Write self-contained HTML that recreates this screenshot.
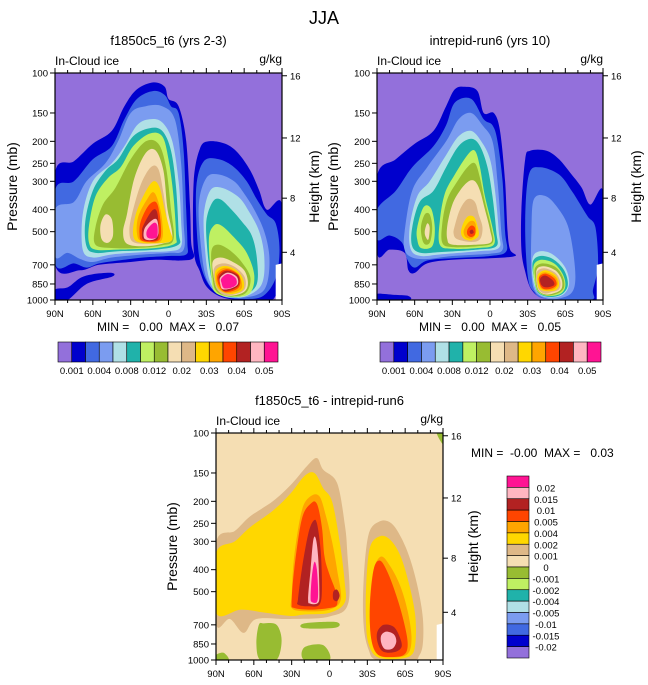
<!DOCTYPE html>
<html><head><meta charset="utf-8"><style>
html,body{margin:0;padding:0;background:#fff;}
svg{display:block;font-family:"Liberation Sans",sans-serif;}
</style></head><body>
<svg id="fig" width="648" height="685" viewBox="0 0 648 685" xmlns="http://www.w3.org/2000/svg">
<text x="324" y="24" text-anchor="middle" font-size="18">JJA</text>
</svg>
<script>
const COLORS=['#9370db','#0000cd','#4169e1','#7b9cf0','#b0e0e6','#20b2aa','#bff062','#98bc32','#f5deb3','#deb887','#ffd700','#ffa500','#ff4500','#b22222','#ffb6c1','#ff1493'];
const P_TICKS=[100,150,200,250,300,400,500,700,850,1000];
const H_TICKS=[16,12,8,4];
const LAT_TICKS=[90,60,30,0,-30,-60,-90];
const LAT_LABELS=['90N','60N','30N','0','30S','60S','90S'];
const CB1_LABELS=['0.001','0.004','0.008','0.012','0.02','0.03','0.04','0.05'];
const CB3_LABELS=['0.02','0.015','0.01','0.005','0.004','0.002','0.001','0','-0.001','-0.002','-0.004','-0.005','-0.01','-0.015','-0.02'];
const CB3_COLORS=[15,14,13,12,11,10,9,8,7,6,5,4,3,2,1,0];

const plot1Contours=[
[1,[[90,275],[75,245],[60,205],[45,180],[35,140],[25,118],[12,110],[3,115],[0,130],[-8,140],[-14,200],[-17,380],[-18,560],[-20,650],[-10,670],[10,665],[30,680],[55,700],[70,740],[90,700]]],
[1,[[90,900],[80,880],[70,800],[60,770],[45,760],[45,790],[65,850],[80,1000],[90,1000]]],
[2,[[90,330],[75,300],[60,240],[45,210],[35,160],[25,130],[12,120],[3,125],[-2,140],[-8,150],[-12,220],[-14,400],[-15,560],[-14,630],[0,640],[20,650],[40,670],[55,690],[65,720],[75,690],[90,690]]],
[3,[[90,400],[75,370],[65,300],[50,250],[40,200],[30,150],[18,140],[5,140],[-5,160],[-10,250],[-12,450],[-12,600],[0,620],[20,630],[45,650],[60,680],[70,660],[80,620],[90,640]]],
[4,[[68,420],[60,300],[45,250],[35,210],[25,170],[15,160],[5,165],[-3,200],[-8,300],[-10,450],[-10,580],[0,610],[20,615],[45,630],[60,650],[68,600]]],
[5,[[66,450],[60,330],[50,270],[40,240],[28,190],[15,175],[5,180],[-2,220],[-6,320],[-8,500],[-8,570],[10,600],[40,610],[58,620],[65,580]]],
[6,[[63,470],[58,350],[48,290],[38,260],[28,210],[15,185],[5,190],[0,240],[-4,350],[-6,520],[-5,565],[10,590],[40,600],[58,600],[63,560]]],
[7,[[58,480],[52,380],[42,320],[30,240],[18,200],[8,205],[2,260],[-2,400],[-4,540],[5,575],[25,590],[45,590],[58,570]]],
[8,[[54,470],[50,420],[45,440],[44,520],[48,560],[53,540]]],
[8,[[33,420],[27,290],[18,225],[10,220],[4,270],[1,390],[-3,530],[5,565],[20,580],[33,565],[36,500]]],
[9,[[29,420],[22,310],[14,260],[8,265],[4,340],[1,450],[-1,545],[15,565],[28,555],[31,500]]],
[10,[[26,420],[19,340],[12,300],[7,320],[3,400],[-1,490],[-3,540],[3,560],[22,560],[28,520]]],
[11,[[24,430],[17,360],[12,335],[8,370],[5,450],[6,550],[21,552],[25,510]]],
[12,[[22,450],[16,385],[10,370],[7,420],[6,520],[10,552],[21,548],[23,510]]],
[13,[[20,470],[14,410],[10,400],[8,445],[8,530],[12,548],[20,542],[21,500]]],
[14,[[19,485],[13,445],[9,445],[8,510],[12,542],[19,537]]],
[15,[[17,492],[12,458],[9,468],[9,525],[13,537],[17,527]]],
[1,[[-20,300],[-25,215],[-32,200],[-45,205],[-55,225],[-65,270],[-72,330],[-78,400],[-90,380],[-90,900],[-85,960],[-80,1000],[-55,1000],[-40,960],[-30,870],[-25,750],[-20,600]]],
[2,[[-22,320],[-28,245],[-40,240],[-52,260],[-62,300],[-70,360],[-78,420],[-85,460],[-88,600],[-85,800],[-75,960],[-60,990],[-45,970],[-35,900],[-27,750],[-23,550]]],
[3,[[-24,380],[-30,290],[-40,280],[-52,300],[-60,340],[-68,400],[-76,500],[-80,650],[-78,850],[-70,950],[-50,980],[-38,930],[-30,800],[-26,600]]],
[4,[[-28,420],[-33,330],[-42,320],[-55,350],[-63,400],[-72,500],[-76,650],[-74,850],[-62,960],[-48,975],[-38,920],[-32,800],[-29,600]]],
[5,[[-30,450],[-35,370],[-41,360],[-50,400],[-58,450],[-66,520],[-70,650],[-70,850],[-60,955],[-48,970],[-38,920],[-34,800],[-31,620]]],
[6,[[-32,540],[-36,470],[-42,470],[-52,530],[-62,620],[-68,780],[-64,940],[-48,968],[-37,925],[-34,800]]],
[7,[[-34,610],[-39,570],[-48,600],[-58,680],[-65,800],[-61,935],[-48,962],[-38,915],[-35,800]]],
[8,[[-35,680],[-41,650],[-50,675],[-60,740],[-63,850],[-59,928],[-47,957],[-39,905],[-36,800]]],
[9,[[-36,730],[-43,690],[-52,712],[-60,785],[-61,880],[-56,932],[-45,952],[-38,885]]],
[10,[[-37,750],[-44,708],[-53,733],[-59,805],[-59,900],[-49,942],[-39,885]]],
[11,[[-38,765],[-45,720],[-54,755],[-58,830],[-57,902],[-46,932],[-39,872]]],
[12,[[-39,775],[-46,732],[-55,768],[-57,840],[-54,897],[-45,922],[-40,862]]],
[13,[[-40,787],[-46,743],[-55,778],[-56,850],[-52,892],[-44,912],[-41,852]]],
[14,[[-41,797],[-47,757],[-54,788],[-55,850],[-50,887],[-43,897],[-41,850]]],
[15,[[-42,803],[-47,768],[-53,798],[-54,850],[-50,882],[-44,887],[-42,840]]],
[-1,[[-85,700],[-90,690],[-90,1000],[-85,1000]]]
];
const plot2Contours=[
[1,[[90,285],[75,240],[60,205],[45,180],[35,140],[28,118],[20,115],[10,120],[5,150],[-3,150],[-8,180],[-12,300],[-14,500],[-16,600],[-20,640],[0,655],[30,665],[50,690],[60,760],[65,740],[68,620],[80,600],[90,620]]],
[1,[[90,940],[75,950],[65,960],[65,1000],[90,1000]]],
[2,[[90,400],[75,330],[62,260],[45,210],[35,170],[28,135],[15,130],[5,160],[-2,170],[-6,200],[-10,300],[-12,500],[-13,610],[0,640],[30,655],[50,670],[60,720],[66,660],[70,560],[80,520],[90,540]]],
[3,[[68,500],[62,330],[50,260],[35,200],[25,160],[15,150],[6,170],[-2,200],[-6,300],[-9,500],[-10,600],[0,625],[30,640],[50,660],[62,650],[68,600]]],
[4,[[64,480],[58,350],[48,300],[35,230],[25,190],[15,180],[7,200],[0,240],[-4,330],[-7,500],[-7,590],[10,610],[40,630],[55,640],[63,600]]],
[5,[[62,480],[56,370],[45,330],[35,260],[25,210],[15,195],[8,210],[2,260],[-2,350],[-5,500],[-5,580],[10,600],[40,615],[55,620],[62,580]]],
[6,[[58,480],[53,390],[47,395],[44,480],[46,580],[55,590],[58,540]]],
[7,[[55,480],[52,420],[48,420],[46,480],[48,560],[53,560]]],
[8,[[52,500],[50,460],[48,480],[49,540],[51,530]]],
[6,[[40,450],[36,340],[28,280],[18,230],[12,220],[8,260],[4,350],[-2,480],[-3,570],[10,590],[30,595],[40,570]]],
[7,[[38,460],[34,360],[26,300],[18,260],[12,250],[8,290],[4,370],[-1,480],[-2,560],[10,580],[30,585],[38,560]]],
[8,[[34,470],[30,380],[24,330],[17,300],[12,300],[8,330],[4,400],[0,490],[-1,555],[10,570],[30,570],[34,540]]],
[9,[[28,470],[24,400],[18,360],[12,370],[9,420],[6,480],[8,540],[15,555],[26,540],[29,510]]],
[10,[[22,470],[18,430],[13,430],[10,470],[9,520],[14,545],[20,540],[23,510]]],
[11,[[20,480],[16,450],[12,455],[11,500],[14,535],[19,530],[21,505]]],
[12,[[18,490],[15,470],[12,480],[12,515],[15,528],[18,515]]],
[13,[[16,495],[14,490],[13,505],[15,512],[16,505]]],
[1,[[-25,400],[-28,240],[-32,220],[-45,220],[-55,240],[-65,280],[-73,320],[-80,380],[-90,330],[-90,700],[-85,1000],[-60,1000],[-42,980],[-33,900],[-28,750],[-25,600]]],
[2,[[-28,450],[-31,280],[-40,260],[-55,280],[-65,330],[-72,380],[-78,430],[-84,480],[-86,700],[-82,900],[-80,1000],[-45,990],[-35,920],[-30,780]]],
[3,[[-33,500],[-35,360],[-45,350],[-55,400],[-62,470],[-66,600],[-68,800],[-65,930],[-55,985],[-45,985],[-36,920],[-33,760]]],
[4,[[-34,650],[-40,610],[-50,630],[-60,720],[-63,850],[-58,950],[-47,975],[-38,930],[-34,800]]],
[5,[[-34,680],[-40,640],[-50,660],[-59,740],[-62,860],[-57,945],[-47,970],[-38,925],[-35,800]]],
[6,[[-35,700],[-41,665],[-51,690],[-58,770],[-60,870],[-56,940],[-46,960],[-38,915],[-35,800]]],
[7,[[-36,720],[-42,690],[-52,715],[-58,790],[-59,880],[-54,935],[-45,955],[-38,905],[-36,800]]],
[8,[[-37,740],[-43,710],[-52,740],[-57,810],[-57,890],[-52,930],[-44,945],[-38,890]]],
[9,[[-37,760],[-43,725],[-52,760],[-56,830],[-55,895],[-50,920],[-43,935],[-38,880]]],
[10,[[-38,775],[-44,740],[-52,775],[-55,845],[-53,900],[-47,915],[-40,900],[-38,850]]],
[11,[[-39,785],[-44,755],[-52,790],[-54,850],[-51,895],[-45,905],[-40,880]]],
[12,[[-39,795],[-44,765],[-51,800],[-53,855],[-49,890],[-43,895],[-40,860]]],
[13,[[-40,805],[-44,780],[-50,820],[-51,860],[-45,880],[-41,860]]],
[-1,[[-85,700],[-90,690],[-90,1000],[-85,1000]]]
];
const plot3Contours=[
[9,[[90,305],[75,270],[63,233],[45,200],[31,170],[18,140],[10,129],[5,145],[-6,166],[-12,250],[-14,330],[-15,560],[0,643],[31,660],[58,660],[68,760],[79,660],[90,690]]],
[10,[[90,340],[75,300],[63,260],[45,220],[31,185],[20,155],[12,150],[5,175],[-2,200],[-8,300],[-12,450],[-12,560],[0,620],[20,630],[31,640],[50,620],[70,600],[90,620]]],
[11,[[30,520],[28,350],[22,220],[15,190],[8,190],[3,230],[-2,300],[-6,400],[-9,540],[0,600],[20,610],[30,590]]],
[12,[[30,560],[28,400],[22,240],[15,205],[10,205],[6,260],[4,350],[0,420],[-5,500],[-6,570],[0,590],[15,600],[28,590]]],
[13,[[25,540],[22,400],[17,280],[13,245],[10,250],[7,330],[6,480],[8,570],[17,580],[25,570]]],
[13,[[-3,500],[-6,490],[-8,520],[-6,550],[-3,540]]],
[14,[[17,540],[15,400],[13,300],[11,290],[9,350],[8,500],[9,560],[15,565]]],
[15,[[15,530],[14,430],[12,370],[10,400],[9,500],[10,555],[14,555]]],
[7,[[52,690],[42,700],[38,820],[42,1000],[55,1000],[58,850],[56,700]]],
[7,[[20,690],[-5,680],[-5,720],[20,725]]],
[7,[[90,950],[84,930],[80,1000],[90,1000]]],
[7,[[-85,100],[-90,100],[-90,112]]],
[7,[[20,880],[5,860],[0,1000],[20,1000]]],
[9,[[-27,450],[-31,280],[-40,245],[-49,250],[-57,290],[-64,360],[-70,480],[-74,650],[-74,850],[-71,960],[-66,1000],[-38,1000],[-31,900],[-27,700]]],
[10,[[-29,480],[-32,320],[-40,285],[-48,295],[-56,345],[-63,460],[-68,640],[-68,850],[-64,960],[-50,992],[-37,965],[-31,850],[-29,700]]],
[11,[[-32,560],[-35,400],[-41,350],[-48,385],[-56,470],[-62,610],[-65,800],[-62,940],[-50,975],[-38,945],[-33,800]]],
[12,[[-32,580],[-35,400],[-40,365],[-46,410],[-53,520],[-59,680],[-62,850],[-59,950],[-48,970],[-38,942],[-33,800]]],
[13,[[-38,750],[-43,700],[-51,715],[-56,800],[-57,880],[-51,925],[-42,915],[-38,830]]],
[14,[[-41,780],[-45,750],[-51,770],[-53,830],[-50,890],[-44,895],[-41,840]]],
[-1,[[-85,700],[-90,690],[-90,1000],[-85,1000]]]
];

const NS='http://www.w3.org/2000/svg';
const svg=document.getElementById('fig');
function mk(tag,attrs,parent){const e=document.createElementNS(NS,tag);for(const k in attrs)e.setAttribute(k,attrs[k]);(parent||svg).appendChild(e);return e;}
function txt(x,y,s,size,anchor,parent,rot){const e=mk('text',{x:x,y:y,'font-size':size,'text-anchor':anchor||'start'},parent);if(rot)e.setAttribute('transform','rotate(-90 '+x+' '+y+')');e.textContent=s;return e;}
function hToP(z){return z<=11?1013.25*Math.pow(1-2.25577e-5*z*1000,5.2559):226.3*Math.exp(-(z-11)/6.34);}
function smooth(pts){let d='';const n=pts.length;for(let i=0;i<n;i++){const p0=pts[(i-1+n)%n],p1=pts[i],p2=pts[(i+1)%n],p3=pts[(i+2)%n];if(i===0)d+='M'+p1[0].toFixed(1)+','+p1[1].toFixed(1);const c1=[p1[0]+(p2[0]-p0[0])/6,p1[1]+(p2[1]-p0[1])/6],c2=[p2[0]-(p3[0]-p1[0])/6,p2[1]-(p3[1]-p1[1])/6];d+='C'+c1[0].toFixed(1)+','+c1[1].toFixed(1)+' '+c2[0].toFixed(1)+','+c2[1].toFixed(1)+' '+p2[0].toFixed(1)+','+p2[1].toFixed(1);}return d+'Z';}

function drawPlot(id,x0,y0,x1,y1,bg,contours,opts){
  const g=mk('g',{});
  
  
  const X=lat=>x0+(90-lat)/180*(x1-x0);
  const Y=p=>y0+(Math.log10(p)-2)*(y1-y0);
  const cp=mk('clipPath',{id:id+'-clip'},g);mk('rect',{x:x0,y:y0,width:x1-x0,height:y1-y0},cp);
  const bgR=mk('rect',{x:x0,y:y0,width:x1-x0,height:y1-y0,fill:COLORS[bg]},g);
  
  
  const cg=mk('g',{'clip-path':'url(#'+id+'-clip)'},g);
  contours.forEach(([lev,poly])=>{
    const pts=poly.map(([la,p])=>[X(la),Y(p)]);
    const path=mk('path',{d:lev<0?'M'+pts.map(q=>q.join(',')).join('L')+'Z':smooth(pts),fill:lev<0?'#fff':COLORS[lev]},cg);
    
    
  });
  mk('rect',{x:x0,y:y0,width:x1-x0,height:y1-y0,fill:'none',stroke:'#000','stroke-width':1.2},g);
  P_TICKS.forEach(p=>{const y=Y(p);mk('line',{x1:x0-5,y1:y,x2:x0,y2:y,stroke:'#000'},g);const t=txt(x0-7,y+3.5,String(p),9.5,'end',g);});
  H_TICKS.forEach(h=>{const y=Y(hToP(h));mk('line',{x1:x1,y1:y,x2:x1+5,y2:y,stroke:'#000'},g);const t=txt(x1+8,y+3.5,String(h),9.5,'start',g);});
  for(let la=90;la>=-90;la-=10){const x=X(la);const major=la%30===0;mk('line',{x1:x,y1:y1,x2:x,y2:y1+(major?5:3),stroke:'#000'},g);mk('line',{x1:x,y1:y0,x2:x,y2:y0-(major?5:3),stroke:'#000'},g);}
  LAT_TICKS.forEach((la,i)=>{const t=txt(X(la),y1+17,LAT_LABELS[i],9.5,'middle',g);});
  let t=txt(x0,y0-8,'In-Cloud ice',12,'start',g);
  t=txt(x1,y0-10,'g/kg',12,'end',g);
  t=txt((x0+x1)/2,y0-28,opts.title,13,'middle',g);
  t=txt(opts.pxLabel,(y0+y1)/2,'Pressure (mb)',14,'middle',g,true);
  t=txt(opts.hxLabel,(y0+y1)/2,'Height (km)',14,'middle',g,true);
  t=txt(opts.mmX,opts.mmY,opts.minmax,12,opts.mmAnchor,g);
  t.setAttribute('xml:space','preserve');t.style.whiteSpace='pre';
}
function hColorbar(id,x0,y0,x1,y1){
  const g=mk('g',{});
  
  
  const w=(x1-x0)/16;
  COLORS.forEach((c,i)=>{const r=mk('rect',{x:x0+i*w,y:y0,width:w,height:y1-y0,fill:c,stroke:'#000','stroke-width':0.6},g);});
  CB1_LABELS.forEach((s,i)=>{const t=txt(x0+(2*i+1)*w,y1+12,s,9.5,'middle',g);});
}
drawPlot('panel-control',55,73,282,300,0,plot1Contours,{title:'f1850c5_t6 (yrs 2-3)',pxLabel:17,hxLabel:319,minmax:'MIN =   0.00  MAX =   0.07',mmX:168,mmY:331,mmAnchor:'middle'});
drawPlot('panel-test',377,73,603,300,0,plot2Contours,{title:'intrepid-run6 (yrs 10)',pxLabel:338,hxLabel:641,minmax:'MIN =   0.00  MAX =   0.05',mmX:490,mmY:331,mmAnchor:'middle'});
drawPlot('panel-diff',216,433,443,660,8,plot3Contours,{title:'f1850c5_t6 - intrepid-run6',pxLabel:177,hxLabel:478,minmax:'MIN =  -0.00  MAX =   0.03',mmX:471,mmY:457,mmAnchor:'start'});
hColorbar('colorbar-control',58,342,278,362);
hColorbar('colorbar-test',380,342,601,362);
(function(){
  const g=mk('g',{});
  
  
  const x0=507,x1=529,y0=476,y1=658,h=(y1-y0)/16;
  CB3_COLORS.forEach((c,i)=>{const r=mk('rect',{x:x0,y:y0+i*h,width:x1-x0,height:h,fill:COLORS[c],stroke:'#000','stroke-width':0.6},g);});
  CB3_LABELS.forEach((s,i)=>{const t=txt(546,y0+(i+1)*h+4,s,9.5,'middle',g);});
})();
</script>
</body></html>
